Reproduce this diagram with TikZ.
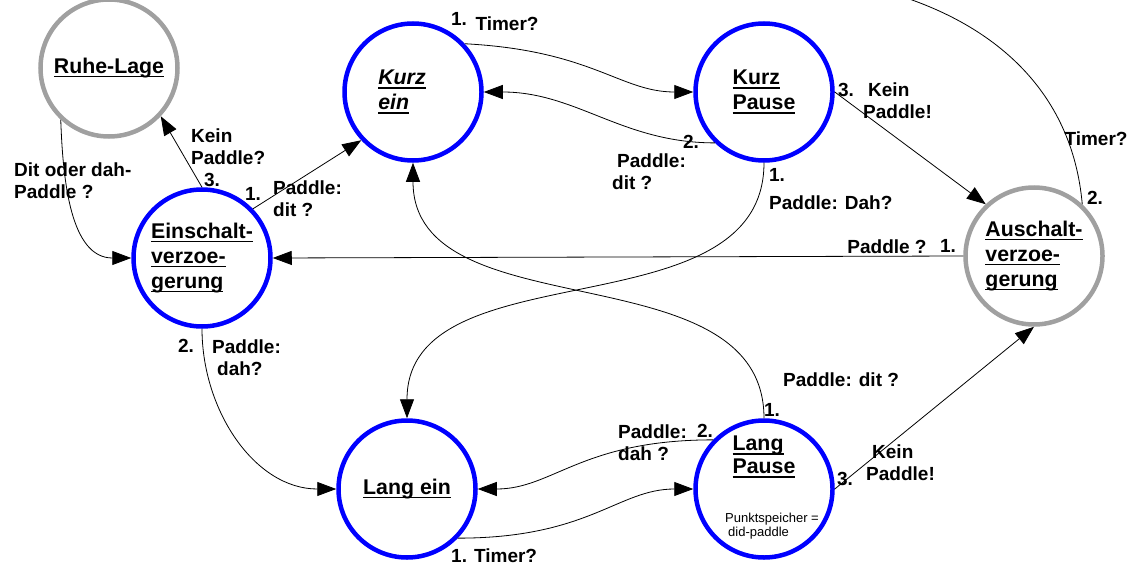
\documentclass[tikz,border=0pt]{standalone}
\usepackage{fontspec}
\setmainfont{Liberation Sans}
\usetikzlibrary{positioning, calc, arrows.meta}
\definecolor{Zustand}{HTML}{0000FF}
\definecolor{Grau}{HTML}{A0A0A0}
\newcommand{\ulbl}[1]{\setbox0=\hbox{#1}\rlap{\rule[-3.8pt]{\wd0}{1.6pt}}\box0}
\tikzset{
    statenode/.style={circle, draw=Zustand, line width=4.5pt, minimum size=137pt, inner sep=0pt, align=left, font=\fontsize{21.3}{25}\selectfont\bfseries},
    idlenode/.style={statenode, draw=Grau},
    titletext/.style={inner sep=0pt, align=left, font=\fontsize{21.3}{23}\selectfont\bfseries},
    edgelbl/.style={inner sep=0pt, align=left, font=\fontsize{19}{22}\selectfont\bfseries},
    memo/.style={inner sep=0pt, align=left, font=\fontsize{13}{14.5}\selectfont},
    arrow/.style={-{Triangle[length=19pt, width=14pt]}, line width=0.8pt},
}

\begin{document}
\begin{tikzpicture}[x=1pt, y=1pt]
    \useasboundingbox (0,0) rectangle (1131,566);

    % Zustaende
    \node[idlenode] (ruhe) at (109,498) {\ulbl{Ruhe-Lage}};
    \node[statenode] (ein) at (202,308) {\ulbl{Einschalt-}\\\ulbl{verzoe-}\\\ulbl{gerung}};
    \node[statenode, font=\fontsize{21.3}{25}\selectfont\bfseries\itshape] (kein) at (413,474) {\ulbl{Kurz}\hspace*{22pt}\\\ulbl{ein}};
    \node[statenode] (kpause) at (764,474) {\ulbl{Kurz}\\\ulbl{Pause}};
    \node[idlenode] (aus) at (1034,310) {\ulbl{Auschalt-}\\\ulbl{verzoe-}\\\ulbl{gerung}};
    \node[statenode] (lein) at (407,77) {\ulbl{Lang ein}};
    \node[statenode] (lpause) at (764,77) {};
    \node[titletext] (lptitle) at ([yshift=32pt]lpause.center) {\ulbl{Lang}\\\ulbl{Pause}};
    \node[memo] (lpmemo) at ([xshift=8pt, yshift=-37pt]lpause.center) {Punktspeicher =\\\hspace*{3pt}did-paddle};

    % Uebergaenge
    \draw[arrow] (ruhe.227) to[out=-88, in=180] (ein.west);
    \draw[arrow] (ein.north) -- (ruhe.-43);
    \draw[arrow] (ein.44) -- (kein.223);
    \draw[arrow] (aus.west) -- (ein.east);
    \draw[arrow] (ein.south) to[out=-90, in=180] (lein.west);
    \draw[arrow] (kein.43) to[out=-3, in=180, out looseness=1.4, in looseness=0.8] (kpause.west);
    \draw[arrow] (kpause.226) to[out=180, in=0] (kein.east);
    \draw[arrow] (kpause.east) -- (aus.133);
    \draw[arrow] (kpause.south) to[out=-90, in=90] (lein.north);
    \draw[arrow] (lpause.north) to[out=90, in=-90] (kein.south);
    \draw[arrow] (lein.-44) to[out=0, in=180, out looseness=1.4, in looseness=0.8] (lpause.west);
    \draw[arrow] (lpause.136) to[out=180, in=0, out looseness=1.4, in looseness=0.8] (lein.east);
    \draw[arrow] (lpause.east) -- (aus.south);
    \coordinate (weg) at (880,576);
    \draw[line width=0.8pt] (aus.47) to[out=95, in=-15] (weg);

    % Beschriftungen
    \node[edgelbl, anchor=west] (l_ruhe) at (14,385) {Dit oder dah-\\Paddle ?};
    \node[edgelbl, anchor=west] (l_keinA) at (191,419) {Kein\\Paddle?};
    \node[edgelbl] (n_3a) at (212,386) {3.};
    \node[edgelbl] (n_1a) at (253,372) {1.};
    \node[edgelbl, anchor=west] (l_ditA) at (273,367) {Paddle:\\dit ?};
    \node[edgelbl] (l_paddle) at (887,319) {Paddle ?};
    \node[edgelbl] (n_1b) at (948,320) {1.};
    \node[edgelbl] (n_2a) at (186,220) {2.};
    \node[edgelbl, anchor=west] (l_dahA) at (212,208) {Paddle:\\\hspace*{5pt}dah?};
    \node[edgelbl] (n_1c) at (459,547) {1.};
    \node[edgelbl] (l_timerA) at (507,542) {Timer?};
    \node[edgelbl] (n_2b) at (691,424) {2.};
    \node[edgelbl, anchor=west] (l_ditB) at (612,394) {\hspace*{5pt}Paddle:\\dit ?};
    \node[edgelbl] (n_3b) at (846,476) {3.};
    \node[edgelbl, anchor=west] (l_keinB) at (863,465) {\hspace*{5pt}Kein\\Paddle!};
    \node[edgelbl] (n_1d) at (777,391) {1.};
    \node[edgelbl, anchor=west] (l_dahB) at (769,363) {Paddle: Dah?};
    \node[edgelbl] (n_1e) at (772,156) {1.};
    \node[edgelbl, anchor=west] (l_ditC) at (783,186) {Paddle: dit ?};
    \node[edgelbl, anchor=west] (l_timerB) at (451,10) {1. Timer?};
    \node[edgelbl, anchor=west] (l_dahC) at (618,123) {Paddle:\\dah ?};
    \node[edgelbl] (n_2c) at (705,135) {2.};
    \node[edgelbl] (n_3c) at (845,87) {3.};
    \node[edgelbl, anchor=west] (l_keinC) at (866,103) {\hspace*{6pt}Kein\\Paddle!};
    \node[edgelbl] (n_2d) at (1095,368) {2.};
    \node[edgelbl] (l_timerC) at (1096,427) {Timer?};
\end{tikzpicture}
\end{document}
